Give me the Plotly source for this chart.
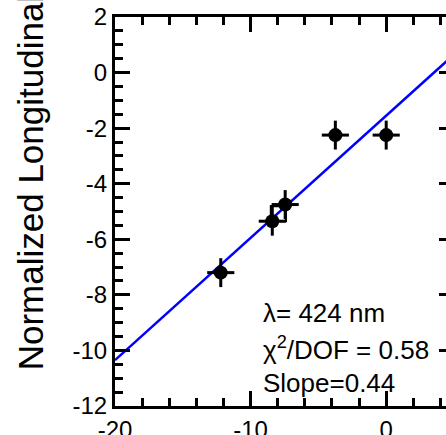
import plotly.graph_objects as go

# Data
pt_x = [-12.2, -8.4, -7.45, -3.75, 0.0]
pt_y = [-7.2, -5.35, -4.75, -2.25, -2.25]
pt_xerr = [1.0, 1.0, 1.0, 1.0, 1.0]
pt_yerr = [0.52, 0.52, 0.52, 0.52, 0.52]

avg_x = [-7.95]
avg_y = [-5.08]

fit_x = [-20.0, 5.0]
fit_y = [-10.35, 0.65]

x_ticks = [-20, -10, 0]
y_ticks = [2, 0, -2, -4, -6, -8, -10, -12]

FONT = "Liberation Sans, Arial, sans-serif"

fig = go.Figure()

fig.add_trace(go.Scatter(
    x=fit_x, y=fit_y, mode="lines",
    line=dict(color="#0000ff", width=2.5),
    showlegend=False, hoverinfo="skip"))

fig.add_trace(go.Scatter(
    x=avg_x, y=avg_y, mode="markers",
    marker=dict(symbol="square-open", size=15, color="black", line=dict(width=2.2)),
    showlegend=False))

fig.add_trace(go.Scatter(
    x=pt_x, y=pt_y, mode="markers",
    marker=dict(symbol="circle", size=14, color="black"),
    error_x=dict(type="data", array=pt_xerr, color="black", thickness=3, width=0),
    error_y=dict(type="data", array=pt_yerr, color="black", thickness=3, width=0),
    showlegend=False))

W, H = 460, 450
L, R, T, B = 115, 3, 16, 44

axis_common = dict(
    showline=True, linecolor="black", linewidth=3,
    mirror="allticks", ticks="inside", ticklen=15, tickwidth=2.5, tickcolor="black",
    showgrid=False, zeroline=False,
    tickfont=dict(family=FONT, size=24, color="black"),
)

fig.update_xaxes(
    range=[-20, 5], tickvals=x_ticks, ticktext=[str(v) for v in x_ticks],
    minor=dict(dtick=2, ticklen=8, tickwidth=2.5, ticks="inside", tickcolor="black", showgrid=False),
    **axis_common)
fig.update_yaxes(
    range=[-12, 2], tickvals=y_ticks, ticktext=[str(v) for v in y_ticks],
    minor=dict(dtick=0.5, ticklen=8, tickwidth=2.5, ticks="inside", tickcolor="black", showgrid=False),
    **axis_common)

ann_font = dict(family=FONT, size=26, color="black")
ann_x = -9.2
fig.add_annotation(x=ann_x, y=-8.66, xref="x", yref="y", text="λ= 424 nm",
                   showarrow=False, xanchor="left", yanchor="middle", font=ann_font)
fig.add_annotation(x=ann_x, y=-9.92, xref="x", yref="y", text="χ<sup>2</sup>/DOF = 0.58",
                   showarrow=False, xanchor="left", yanchor="middle", font=ann_font)
fig.add_annotation(x=ann_x, y=-11.17, xref="x", yref="y", text="Slope=0.44",
                   showarrow=False, xanchor="left", yanchor="middle", font=ann_font)

pw = W - L - R
ph = H - T - B
fig.add_annotation(x=(29.5 - L) / pw, y=(406 - 372) / ph, xref="paper", yref="paper",
                   text="Normalized Longitudinal", textangle=-90, showarrow=False,
                   xanchor="center", yanchor="bottom",
                   font=dict(family=FONT, size=35, color="black"))

fig.update_layout(
    width=W, height=H,
    margin=dict(l=L, r=R, t=T, b=B, pad=0),
    plot_bgcolor="white", paper_bgcolor="white",
)

fig.write_html("out.html")
